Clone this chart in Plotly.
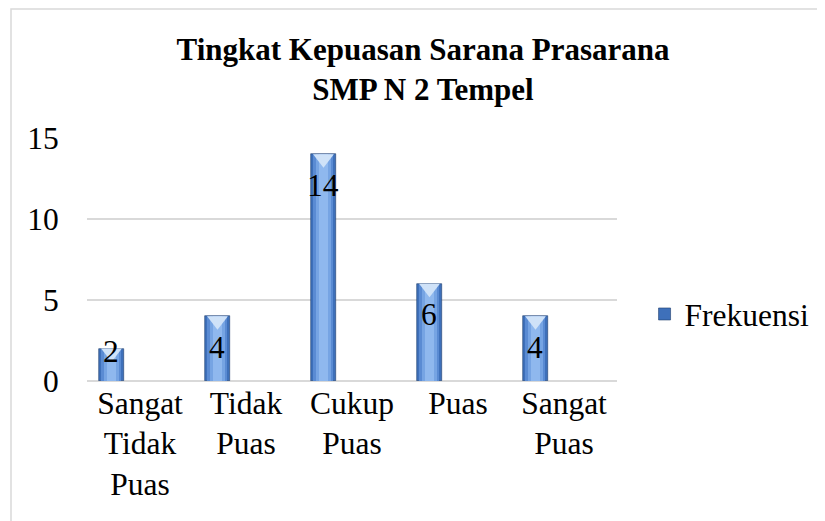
import plotly.graph_objects as go

# ---- data ----
categories = ["Sangat<br>Tidak<br>Puas", "Tidak<br>Puas", "Cukup<br>Puas", "Puas", "Sangat<br>Puas"]
frekuensi = [2, 4, 14, 6, 4]
y_ticks = [0, 5, 10, 15]
series_name = "Frekuensi"
title_lines = ["Tingkat Kepuasan Sarana Prasarana", "SMP N 2 Tempel"]

# ---- styling ----
FONT = "Liberation Serif"
FS = 31.5
FS_TITLE = 31
# the page adds an 8px body margin; figure is sized so the page shows 825x521
W, H = 817, 513
ML, MR, MT, MB = 79, 208, 130, 140
PW, PH = W - ML - MR, H - MT - MB

idx = list(range(len(categories)))
OFFSET = -0.269
BAR_W = 0.236
bar_x = [i + OFFSET for i in idx]

fig = go.Figure()

layers = [
    (BAR_W, "#3E70BA"),
    (BAR_W * 0.80, "#5A8BD3"),
    (BAR_W * 0.58, "#76A4E3"),
    (BAR_W * 0.34, "#8FB8EE"),
]
for k, (w, col) in enumerate(layers):
    fig.add_trace(go.Bar(
        x=bar_x, y=frekuensi, width=w,
        name=series_name, showlegend=(k == 0),
        marker=dict(color=col,
                    line=dict(color="#1E3C6B" if k == 0 else col, width=0.6 if k == 0 else 0)),
        hoverinfo="skip",
    ))

# bevel chevron at top of each bar
PX_PER_UNIT = PH / 15.0
fig.add_trace(go.Scatter(
    x=bar_x, y=[v - 4.5 / PX_PER_UNIT for v in frekuensi],
    mode="markers", showlegend=False, hoverinfo="skip",
    marker=dict(symbol="triangle-down", size=18, color="#CFE2F8",
                line=dict(width=0)),
))

# data labels
for xv, v in zip(bar_x, frekuensi):
    shift = -31 if v * PX_PER_UNIT > 45 else -3
    fig.add_annotation(x=xv, y=v, text=str(v), showarrow=False,
                       yanchor="middle", yshift=shift,
                       font=dict(family=FONT, size=FS, color="black"))

def px2paper_x(p):
    return (p - ML) / PW

def px2paper_y(q):
    return (H - MB - q) / PH

# chart border (light gray frame, cropped right/bottom)
fig.add_shape(type="rect", xref="paper", yref="paper",
              x0=px2paper_x(3), x1=px2paper_x(W + 20),
              y0=px2paper_y(H + 20), y1=px2paper_y(1),
              line=dict(color="#D9D9D9", width=1.5), layer="below")

fig.update_layout(
    width=W, height=H,
    margin=dict(l=ML, r=MR, t=MT, b=MB, pad=0, autoexpand=False),
    paper_bgcolor="white", plot_bgcolor="white",
    barmode="overlay", bargap=0,
    font=dict(family=FONT, size=FS, color="black"),
    title=dict(text="<b>" + "<br>".join(title_lines) + "</b>",
               x=415 / W, xanchor="center", xref="container",
               y=1 - 52 / H, yanchor="top", yref="container",
               font=dict(family=FONT, size=FS_TITLE, color="black")),
    xaxis=dict(range=[-0.5, len(categories) - 0.5], tickvals=idx, ticktext=categories,
               showgrid=False, zeroline=False, showline=False, automargin=False,
               ticks="", ticklen=0,
               tickfont=dict(family=FONT, size=FS, color="black")),
    yaxis=dict(range=[0, 15], tickvals=y_ticks, showgrid=True, automargin=False,
               gridcolor="#D9D9D9", gridwidth=1.5,
               zeroline=True, zerolinecolor="#D9D9D9", zerolinewidth=1.5,
               showline=False, ticks="outside", ticklen=21, tickcolor="rgba(0,0,0,0)",
               tickfont=dict(family=FONT, size=FS, color="black")),
    legend=dict(x=1.052, y=px2paper_y(306), xanchor="left", yanchor="middle",
                font=dict(family=FONT, size=FS, color="black"),
                bgcolor="rgba(0,0,0,0)", itemwidth=30, tracegroupgap=0),
)

fig.write_html("out.html")
